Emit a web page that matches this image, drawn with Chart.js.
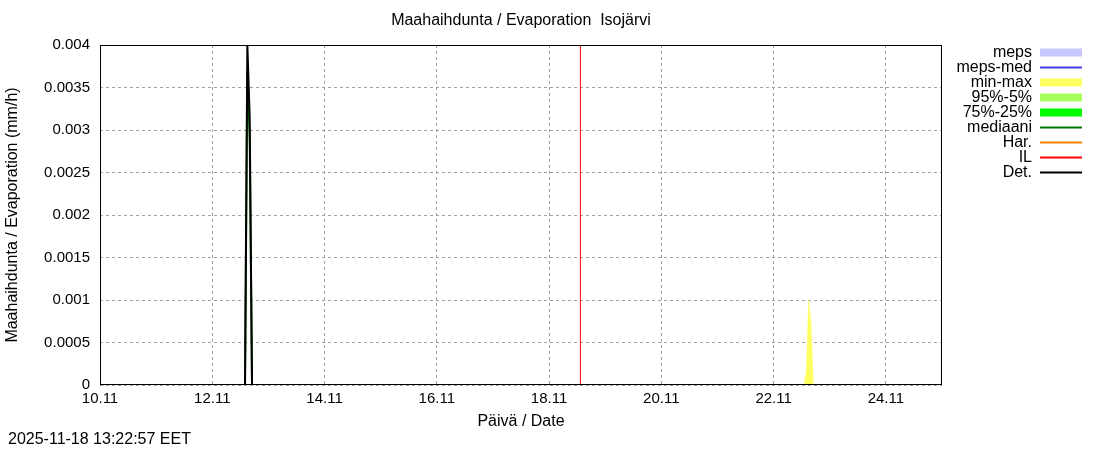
<!DOCTYPE html>
<html>
<head>
<meta charset="utf-8">
<script src="https://cdn.jsdelivr.net/npm/chart.js@4.4.0/dist/chart.umd.min.js"></script>
<style>
  body { margin: 0; background: #fff; }
  canvas { display: block; }
</style>
</head>
<body>
<canvas id="evapChart" width="1100" height="450"></canvas>
<script>
// Maahaihdunta / Evaporation, Isojärvi
// x = tunnit alkaen 10.11 00:00
const xTickHours = [0, 48, 96, 144, 192, 240, 288, 336];
const xTickLabels = ['10.11', '12.11', '14.11', '16.11', '18.11', '20.11', '22.11', '24.11'];
const yTicks = [0, 0.0005, 0.001, 0.0015, 0.002, 0.0025, 0.003, 0.0035, 0.004];
const yTickLabels = ['0', '0.0005', '0.001', '0.0015', '0.002', '0.0025', '0.003', '0.0035', '0.004'];

const detHours = [0, 62, 63, 64, 65, 360];
const detValues = [0, 0, 0.004, 0.00315, 0, 0];

const medHours = [62, 63, 64, 65];
const medValues = [0, 0.0037, 0.0029, 0];

const minMaxHours = [301, 302, 303, 304, 305];
const minMaxValues = [0, 0.00017, 0.001, 0.00072, 0];

const ilHour = 205.4;

const legendLabels = ['meps', 'meps-med', 'min-max', '95%-5%', '75%-25%', 'mediaani', 'Har.', 'IL', 'Det.'];
const legendColors = ['#c8c8ff', '#4040e0', '#ffff60', '#a8ff60', '#00ff00', '#007800', '#ff8000', '#ff0000', '#000000'];
const legendThick = [true, false, true, true, true, false, false, false, false];

const FONT = '"Liberation Sans", Arial, sans-serif';

function pts(xs, ys) {
    return xs.map((x, i) => ({ x: x, y: ys[i] }));
}

const extras = {
    id: 'extras',
    afterDraw(chart) {
        const c = chart.ctx;
        const a = chart.chartArea;
        c.save();
        // kehys
        c.strokeStyle = '#000';
        c.lineWidth = 1;
        c.strokeRect(a.left + 0.5, a.top + 0.5, a.right - a.left - 1, a.bottom - a.top - 1);

        c.fillStyle = '#000';
        c.font = '16px ' + FONT;
        c.textAlign = 'center';
        c.textBaseline = 'middle';
        c.fillText('Maahaihdunta / Evaporation  Isojärvi', (a.left + a.right) / 2, 21);

        c.textAlign = 'left';
        c.fillText('2025-11-18 13:22:57 EET', 8, 440);

        // selite
        c.textAlign = 'right';
        legendLabels.forEach((lab, i) => {
            const y = 52.5 + i * 15;
            c.fillStyle = '#000';
            c.fillText(lab, 1032, y);
            c.fillStyle = legendColors[i];
            if (legendThick[i]) {
                c.fillRect(1040, y - 4, 42, 8);
            } else {
                c.fillRect(1040, y - 1, 42, 2);
            }
        });
        c.restore();
    }
};

const ctx = document.getElementById('evapChart').getContext('2d');
const evapChart = new Chart(ctx, {
    type: 'line',
    data: {
        datasets: [{
            label: 'Det.',
            data: pts(detHours, detValues),
            borderColor: '#000000',
            borderWidth: 2,
            pointRadius: 0,
            fill: false,
            order: 1
        }, {
            label: 'IL',
            data: [{ x: ilHour, y: 0 }, { x: ilHour, y: 0.004 }],
            borderColor: '#ff0000',
            borderWidth: 1,
            pointRadius: 0,
            fill: false,
            order: 2
        }, {
            label: 'mediaani',
            data: pts(medHours, medValues),
            borderColor: '#007000',
            borderWidth: 2,
            pointRadius: 0,
            fill: false,
            order: 3
        }, {
            label: 'min-max',
            data: pts(minMaxHours, minMaxValues),
            borderColor: '#ffff60',
            borderWidth: 0.5,
            backgroundColor: '#ffff60',
            pointRadius: 0,
            fill: 'origin',
            order: 4
        }]
    },
    options: {
        responsive: false,
        animation: false,
        devicePixelRatio: 1,
        layout: {
            padding: { top: 45, right: 158, bottom: 0, left: 0 }
        },
        elements: {
            line: { tension: 0 }
        },
        scales: {
            x: {
                type: 'linear',
                min: 0,
                max: 360,
                afterBuildTicks: (scale) => {
                    scale.ticks = xTickHours.map(v => ({ value: v }));
                },
                afterFit: (scale) => { scale.height = 65; },
                ticks: {
                    autoSkip: false,
                    maxRotation: 0,
                    padding: 5,
                    color: '#000',
                    font: { family: FONT, size: 15 },
                    callback: (v) => xTickLabels[xTickHours.indexOf(v)]
                },
                grid: {
                    color: '#a0a0a0',
                    drawTicks: false
                },
                border: { display: false, dash: [3, 3] },
                title: {
                    display: true,
                    text: 'Päivä / Date',
                    color: '#000',
                    font: { family: FONT, size: 16 },
                    padding: { top: 0, bottom: 19 }
                }
            },
            y: {
                min: 0,
                max: 0.004,
                afterBuildTicks: (scale) => {
                    scale.ticks = yTicks.map(v => ({ value: v }));
                },
                afterFit: (scale) => { scale.width = 100; },
                ticks: {
                    padding: 10,
                    color: '#000',
                    font: { family: FONT, size: 15 },
                    callback: (v) => yTickLabels[yTicks.indexOf(v)]
                },
                grid: {
                    color: '#a0a0a0',
                    drawTicks: false
                },
                border: { display: false, dash: [3, 3] },
                title: {
                    display: true,
                    text: 'Maahaihdunta / Evaporation (mm/h)',
                    color: '#000',
                    font: { family: FONT, size: 16 },
                    padding: { top: 3, bottom: 4 }
                }
            }
        },
        plugins: {
            legend: { display: false },
            tooltip: { enabled: false }
        }
    },
    plugins: [extras]
});
</script>
</body>
</html>
